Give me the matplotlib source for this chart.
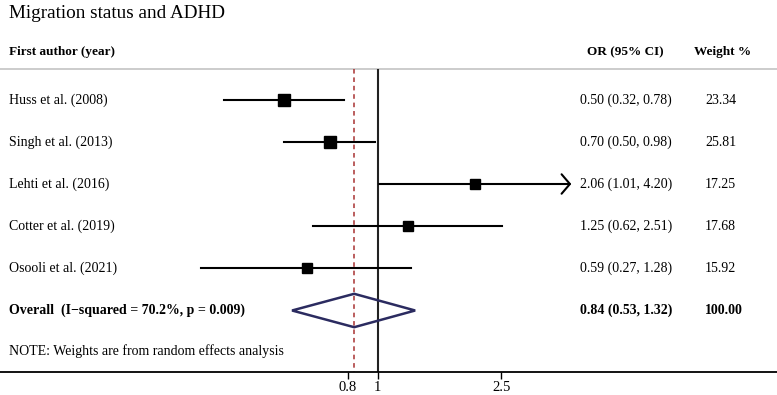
import matplotlib.pyplot as plt
import numpy as np
from matplotlib.transforms import blended_transform_factory

plt.rcParams["font.family"] = ["Liberation Serif", "DejaVu Serif"]

title = "Migration status and ADHD"
studies = ["Huss et al. (2008)", "Singh et al. (2013)", "Lehti et al. (2016)",
           "Cotter et al. (2019)", "Osooli et al. (2021)"]
odds = [0.50, 0.70, 2.06, 1.25, 0.59]
lower = [0.32, 0.50, 1.01, 0.62, 0.27]
upper = [0.78, 0.98, 4.20, 2.51, 1.28]
weights = [23.34, 25.81, 17.25, 17.68, 15.92]
overall_label = "Overall  (I\u2212squared = 70.2%, p = 0.009)"
overall_or, overall_lo, overall_hi = 0.84, 0.53, 1.32
note = "NOTE: Weights are from random effects analysis"
xticks = [0.8, 1, 2.5]
x_max = 4.2  # CIs reaching this get an arrow

W, H = 777, 395
fig = plt.figure(figsize=(W / 100, H / 100), dpi=100)
axis_px = 372
ax = fig.add_axes([0, (H - axis_px) / H, 1, axis_px / H])
ax.set_xscale("log")
# log axis spans the full width: ~135 px per ln unit, OR=1 at x=378 px
px_per_ln = 134.9
x_one = 377.7
ax.set_xlim(np.exp(-x_one / px_per_ln), np.exp((W - x_one) / px_per_ln))
ax.set_ylim(axis_px, 0)

for s in ["top", "left", "right"]:
    ax.spines[s].set_visible(False)
ax.spines["bottom"].set_linewidth(1.3)
ax.set_yticks([])
ax.set_xticks(xticks)
ax.set_xticklabels([f"{t:g}" for t in xticks], fontsize=10.5)
ax.minorticks_off()
ax.tick_params(axis="x", direction="out", length=5, width=1, pad=1.5)

# text columns: x in figure pixels, y in data (pixel rows from top)
tx = blended_transform_factory(fig.transFigure, ax.transData)


def fx(px):
    return px / W


row_y = [100 + 42 * i for i in range(len(studies))]
overall_y = row_y[-1] + 42.5
note_y = overall_y + 41
header_y = 52
line_y = 68.5

ax.text(fx(9), 13, title, fontsize=13.8, ha="left", va="center", transform=tx)
for x, lab in [(9, "First author (year)"), (587, "OR (95% CI)"), (694, "Weight %")]:
    ax.text(fx(x), header_y, lab, fontsize=9.5, fontweight="bold",
            ha="left", va="center", transform=tx)
ax.axhline(line_y, color="#c4c4c4", lw=1.2)

ax.vlines(1, line_y, axis_px, color="#222222", lw=1.5, zorder=2)
ax.vlines(overall_or, line_y, axis_px, color="#a83232", lw=1.1,
          linestyles=(0, (3, 2.5)), zorder=2)

for i, y in enumerate(row_y):
    hi = min(upper[i], x_max)
    if upper[i] >= x_max:
        ax.annotate("", xy=(hi, y), xytext=(lower[i], y),
                    arrowprops=dict(arrowstyle="->,head_length=0.6,head_width=0.7",
                                    lw=1.5, color="black", shrinkA=0, shrinkB=0))
    else:
        ax.plot([lower[i], hi], [y, y], color="black", lw=1.5, zorder=3)
    ax.plot(odds[i], y, marker="s", color="black",
            markersize=9.1 * np.sqrt(weights[i] / max(weights)), zorder=4)
    ax.text(fx(9), y, studies[i], fontsize=10, ha="left", va="center", transform=tx)
    ax.text(fx(580), y, f"{odds[i]:.2f} ({lower[i]:.2f}, {upper[i]:.2f})",
            fontsize=10, ha="left", va="center", transform=tx)
    ax.text(fx(705), y, f"{weights[i]:.2f}", fontsize=10, ha="left",
            va="center", transform=tx)

dh = 16.7
ax.fill([overall_lo, overall_or, overall_hi, overall_or, overall_lo],
        [overall_y, overall_y - dh, overall_y, overall_y + dh, overall_y],
        facecolor="none", edgecolor="#2b2b60", lw=1.8, zorder=5)
ax.text(fx(9), overall_y, overall_label, fontsize=10, fontweight="bold",
        ha="left", va="center", transform=tx)
ax.text(fx(580), overall_y, f"{overall_or:.2f} ({overall_lo:.2f}, {overall_hi:.2f})",
        fontsize=10, fontweight="bold", ha="left", va="center", transform=tx)
ax.text(fx(705), overall_y, f"{sum(weights):.2f}", fontsize=10,
        fontweight="bold", ha="left", va="center", transform=tx)
ax.text(fx(9), note_y, note, fontsize=10, ha="left", va="center", transform=tx)

fig.savefig("out.png", dpi=100)
